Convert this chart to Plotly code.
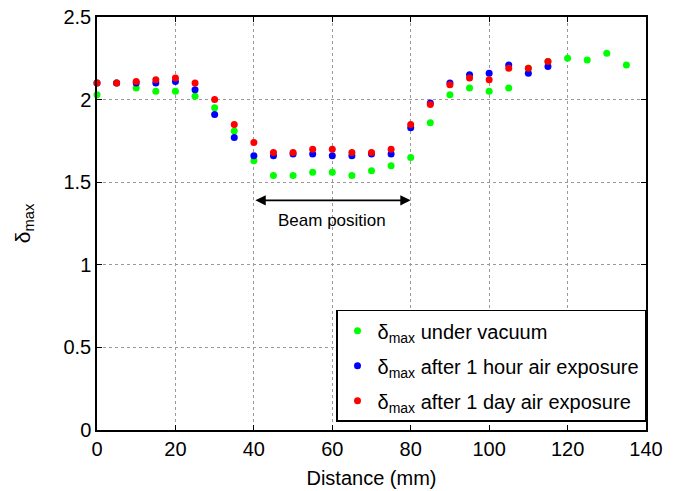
import plotly.graph_objects as go

distance_mm = [0, 5, 10, 15, 20, 25, 30, 35, 40, 45, 50, 55, 60, 65, 70, 75,
               80, 85, 90, 95, 100, 105, 110, 115, 120, 125, 130, 135]

delta_vacuum = [2.03, 2.10, 2.07, 2.05, 2.05, 2.02, 1.95, 1.81, 1.63, 1.54, 1.54, 1.56,
                1.56, 1.54, 1.57, 1.60, 1.65, 1.86, 2.03, 2.07, 2.05, 2.07, 2.19, 2.23,
                2.25, 2.24, 2.28, 2.21]

delta_1hour = [2.10, 2.10, 2.10, 2.10, 2.11, 2.06, 1.91, 1.77, 1.66, 1.66, 1.67, 1.67,
               1.66, 1.66, 1.67, 1.67, 1.83, 1.98, 2.10, 2.15, 2.16, 2.21, 2.16, 2.20]

delta_1day = [2.10, 2.10, 2.11, 2.12, 2.13, 2.10, 2.00, 1.85, 1.74, 1.68, 1.68, 1.70,
              1.70, 1.68, 1.68, 1.70, 1.85, 1.97, 2.09, 2.13, 2.12, 2.19, 2.19, 2.23]

series_names = ["δ<sub>max</sub> under vacuum",
                "δ<sub>max</sub> after 1 hour air exposure",
                "δ<sub>max</sub> after 1 day air exposure"]
series_colors = ["#00ff00", "#0000ff", "#ff0000"]

beam_range = [40, 80]
beam_arrow_y = 1.39
beam_label_y = 1.27
beam_label = "Beam position"

x_ticks = [0, 20, 40, 60, 80, 100, 120, 140]
y_ticks = [0, 0.5, 1, 1.5, 2, 2.5]

FONT = "Liberation Sans, Arial, Helvetica, sans-serif"

fig = go.Figure()
for i, (name, color, vals) in enumerate(zip(series_names, series_colors,
                                            [delta_vacuum, delta_1hour, delta_1day])):
    fig.add_trace(go.Scatter(
        x=distance_mm[:len(vals)], y=vals, mode="markers", name=name,
        legendgroup=f"g{i}",
        marker=dict(color=color, size=7, line=dict(width=0)),
        cliponaxis=False,
    ))

# double-headed arrow for beam position
fig.add_annotation(
    x=beam_range[1], y=beam_arrow_y, ax=beam_range[0], ay=beam_arrow_y,
    xref="x", yref="y", axref="x", ayref="y", text="",
    showarrow=True, arrowside="end+start", arrowhead=2, startarrowhead=2,
    arrowsize=1.3, startarrowsize=1.3, arrowwidth=1.6, arrowcolor="black",
)
fig.add_annotation(
    x=(beam_range[0] + beam_range[1]) / 2, y=beam_label_y, xref="x", yref="y",
    text=beam_label, showarrow=False, font=dict(size=17, color="black", family=FONT),
)

axis_common = dict(
    showline=True, linecolor="black", linewidth=1.5, mirror="allticks",
    ticks="inside", ticklen=5, tickwidth=1, tickcolor="black",
    showgrid=True, gridcolor="#9a9a9a", griddash="dot", gridwidth=1,
    zeroline=False, tickfont=dict(size=20, color="black", family=FONT),
    automargin=False,
)

fig.update_xaxes(range=[0, 140], tickvals=x_ticks,
                 title=dict(text="Distance (mm)", font=dict(size=20, color="black", family=FONT),
                            standoff=12),
                 **axis_common)
fig.update_yaxes(range=[0, 2.5], tickvals=y_ticks,
                 title=dict(text="δ<sub>max</sub>", font=dict(size=21, color="black", family=FONT),
                            standoff=27),
                 **axis_common)

fig.update_layout(
    width=677, height=491,
    margin=dict(l=97, r=31, t=17, b=61),
    plot_bgcolor="white", paper_bgcolor="white",
    font=dict(family=FONT, color="black"),
    legend=dict(
        x=1, y=0.291, xanchor="right", yanchor="top",
        bordercolor="black", borderwidth=1.5, bgcolor="white",
        font=dict(size=20, color="black", family=FONT),
        itemwidth=30, tracegroupgap=6,
    ),
)

fig.write_html("out.html", config={"displayModeBar": False},
               post_script="document.body.style.margin='0px';")
